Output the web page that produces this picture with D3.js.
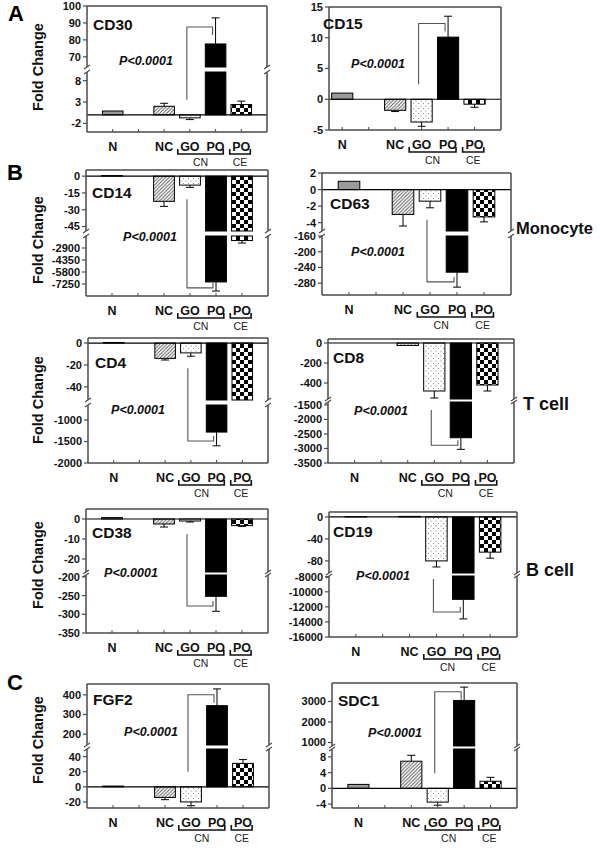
<!DOCTYPE html>
<html><head><meta charset="utf-8">
<script src="https://cdn.jsdelivr.net/npm/d3@7"></script>
<style>
body{margin:0;background:#fff}
svg{display:block}
text{font-family:"Liberation Sans",Arial,Helvetica,sans-serif}
</style>
</head><body>
<svg id="c" width="600" height="848"></svg>
<script>
// ---------------- DATA ----------------
const categories = ["N", "NC", "GO", "PO", "PO"];
const groupLabels = ["CN", "CE"];
const cellTypes = ["Monocyte", "T cell", "B cell"];
const sectionLetters = ["A", "B", "C"];
const pLabel = "P<0.0001";
const yTitle = "Fold Change";

const valuesCD30 = [0.9, 2.0, -0.7, 77.6, 2.4];
const errorsCD30 = [null, 2.7, -1.1, 93, 3.2];
const ticksCD30 = [-2, 3, 8, 70, 80, 90, 100];

const valuesCD15 = [1.0, -1.8, -3.7, 10.1, -0.8];
const errorsCD15 = [null, -2.0, -4.4, 13.5, -1.3];
const ticksCD15 = [-5, 0, 5, 10, 15];

const valuesCD14 = [0.5, -22.5, -8, -7000, -2000];
const errorsCD14 = [null, -27, -10, -8100, -2300];
const ticksCD14 = [0, -15, -30, -45, -2900, -4350, -5800, -7250];

const valuesCD63 = [1, -3, -1.4, -252, -3.3];
const errorsCD63 = [null, -4.4, -2.2, -290, -3.9];
const ticksCD63 = [2, 0, -2, -4, -160, -200, -240, -280];

const valuesCD4 = [0.5, -14, -9, -1280, -60];
const errorsCD4 = [null, -15.5, -12, -1600, null];
const ticksCD4 = [0, -20, -40, -1000, -1500, -2000];

const valuesCD8 = [0, -25, -480, -2630, -420];
const errorsCD8 = [null, null, -550, -3030, -480];
const ticksCD8 = [0, -200, -400, -1500, -2000, -2500, -3000, -3500];

const valuesCD38 = [0.7, -2.5, -1, -252, -3.3];
const errorsCD38 = [null, -4, -1.5, -292, -3.7];
const ticksCD38 = [0, -10, -20, -200, -250, -300, -350];

const valuesCD19 = [0.5, 1, -80, -11000, -64];
const errorsCD19 = [null, null, -91, -13600, -75];
const ticksCD19 = [0, -40, -80, -8000, -10000, -12000, -14000, -16000];

const valuesFGF2 = [1, -14, -20, 345, 31];
const errorsFGF2 = [null, -17, -25, 430, 36];
const ticksFGF2 = [-20, 0, 20, 40, 200, 300, 400];

const valuesSDC1 = [1, 6.9, -3.5, 3050, 1.8];
const errorsSDC1 = [null, 8.4, -4.3, 3700, 2.8];
const ticksSDC1 = [-4, 0, 4, 8, 1000, 2000, 3000];

// ---------------- LAYOUT ----------------
const slots = [1, 3, 4, 5, 6];
const fills = ["url(#pGray)", "url(#pHatch)", "url(#pDots)", "#000", "url(#pCheck)"];

const panels = [
  {name:"CD30", v:valuesCD30, e:errorsCD30, t:ticksCD30, frame:[87,267,6,132], xd:[0,7],
   segs:[{d:[-4,10], r:[132,72]}, {d:[64,100], r:[67,6]}], title:[93,24], p:[146,60]},
  {name:"CD15", v:valuesCD15, e:errorsCD15, t:ticksCD15, frame:[329,501,7,130], xd:[0.5,7],
   segs:[{d:[-5,15], r:[130,7]}], title:[323,23], p:[378,63]},
  {name:"CD14", v:valuesCD14, e:errorsCD14, t:ticksCD14, frame:[86,268,170,296], xd:[0,7],
   segs:[{d:[-49,5.5], r:[231,170]}, {d:[-8700,-1450], r:[296,236]}], title:[92,192], p:[150,236]},
  {name:"CD63", v:valuesCD63, e:errorsCD63, t:ticksCD63, frame:[322,511,173,295], xd:[0,7],
   segs:[{d:[-5,2], r:[231,173]}, {d:[-310,-160], r:[295,236]}], title:[330,203], p:[378,251]},
  {name:"CD4", v:valuesCD4, e:errorsCD4, t:ticksCD4, frame:[88,268,338,463], xd:[0,7],
   segs:[{d:[-52,4.6], r:[400,338]}, {d:[-2000,-650], r:[463,405]}], title:[95,362], p:[138,409]},
  {name:"CD8", v:valuesCD8, e:errorsCD8, t:ticksCD8, frame:[328,514,339,463], xd:[0,7],
   segs:[{d:[-560,40], r:[399,339]}, {d:[-3500,-1400], r:[463,402]}], title:[333,357], p:[381,410]},
  {name:"CD38", v:valuesCD38, e:errorsCD38, t:ticksCD38, frame:[86,268,509,633], xd:[0,7],
   segs:[{d:[-26.5,5], r:[572,509]}, {d:[-350,-195], r:[633,575]}], title:[92,532], p:[131,572]},
  {name:"CD19", v:valuesCD19, e:errorsCD19, t:ticksCD19, frame:[329,517,512,637], xd:[0,7],
   segs:[{d:[-102,9], r:[573,512]}, {d:[-16000,-7900], r:[637,576]}], title:[333,531], p:[383,575]},
  {name:"FGF2", v:valuesFGF2, e:errorsFGF2, t:ticksFGF2, frame:[87,269,684,808], xd:[0,7],
   segs:[{d:[-28,50], r:[808,749]}, {d:[145,455], r:[745,684]}], title:[93,699], p:[151,731]},
  {name:"SDC1", v:valuesSDC1, e:errorsSDC1, t:ticksSDC1, frame:[332,517,683,808], xd:[0,7],
   segs:[{d:[-5,10], r:[808,749]}, {d:[830,3900], r:[746,683]}], title:[338,700], p:[395,732]}
];

const svg = d3.select("#c");
const defs = svg.append("defs");
const pg = defs.append("pattern").attr("id","pGray").attr("patternUnits","userSpaceOnUse").attr("width",4).attr("height",4);
pg.append("rect").attr("width",4).attr("height",4).attr("fill","#9a9a9a");
const ph = defs.append("pattern").attr("id","pHatch").attr("patternUnits","userSpaceOnUse").attr("width",3.5).attr("height",3.5);
ph.append("rect").attr("width",3.5).attr("height",3.5).attr("fill","#fff");
ph.append("path").attr("d","M-1,1 L1,-1 M0,3.5 L3.5,0 M2.5,4.5 L4.5,2.5").attr("stroke","#555").attr("stroke-width",0.9);
const pd = defs.append("pattern").attr("id","pDots").attr("patternUnits","userSpaceOnUse").attr("width",5).attr("height",5);
pd.append("rect").attr("width",5).attr("height",5).attr("fill","#fff");
pd.append("circle").attr("cx",1).attr("cy",1).attr("r",0.55).attr("fill","#777");
pd.append("circle").attr("cx",3.5).attr("cy",3.5).attr("r",0.55).attr("fill","#777");
const pc = defs.append("pattern").attr("id","pCheck").attr("patternUnits","userSpaceOnUse").attr("width",8).attr("height",8);
pc.append("rect").attr("width",8).attr("height",8).attr("fill","#fff");
pc.append("rect").attr("width",4).attr("height",4).attr("fill","#000");
pc.append("rect").attr("x",4).attr("y",4).attr("width",4).attr("height",4).attr("fill","#000");

function drawPanel(p) {
  const [x0, x1, y0, y1] = p.frame;
  const g = svg.append("g");
  const x = d3.scaleLinear().domain(p.xd).range([x0, x1]);
  const step = x(1) - x(0);
  const segs = p.segs.map(s => ({lo: s.d[0], hi: s.d[1], r: s.r, scale: d3.scaleLinear().domain(s.d).range(s.r)}));
  const base = segs[0], other = segs[1];
  const segOf = v => segs.find(s => v >= s.lo - 1e-9 && v <= s.hi + 1e-9);
  const clamp = (v, a, b) => Math.max(a, Math.min(b, v));

  p.v.forEach((v, i) => {
    const cx = x(slots[i]), w = step * 0.8;
    const pieces = [[base.scale(0), base.scale(clamp(v, base.lo, base.hi))]];
    if (other && (v < base.lo || v > base.hi)) {
      if (v >= other.lo && v <= other.hi) {
        const edge = v < 0 ? other.hi : other.lo;
        pieces.push([other.scale(edge), other.scale(v)]);
      } else if ((v < 0 && v < other.lo) || (v > 0 && v > other.hi)) {
        pieces.push([other.scale(other.lo), other.scale(other.hi)]);
      }
    }
    pieces.forEach(([a, b]) => {
      const h = Math.abs(b - a);
      if (h < 0.01) return;
      g.append("rect").attr("x", cx - w/2).attr("y", Math.min(a, b)).attr("width", w).attr("height", h)
        .attr("fill", fills[i]).attr("stroke", "#000").attr("stroke-width", 1);
    });
  });

  g.append("line").attr("x1", x0).attr("x2", x1).attr("y1", base.scale(0)).attr("y2", base.scale(0))
    .attr("stroke", "#000").attr("stroke-width", 1.2);

  p.e.forEach((e, i) => {
    if (e === null) return;
    const v = p.v[i];
    const s = segOf(e), sv = segOf(v);
    if (!s || s !== sv) return;
    const cx = x(slots[i]);
    g.append("line").attr("x1", cx).attr("x2", cx).attr("y1", s.scale(v)).attr("y2", s.scale(e))
      .attr("stroke", "#000").attr("stroke-width", 1);
    g.append("line").attr("x1", cx - 4).attr("x2", cx + 4).attr("y1", s.scale(e)).attr("y2", s.scale(e))
      .attr("stroke", "#000").attr("stroke-width", 1);
  });

  const fc = "#4a4a4a", fw = 1.5;
  g.append("line").attr("x1", x0).attr("x2", x1).attr("y1", y0).attr("y2", y0).attr("stroke", fc).attr("stroke-width", fw);
  g.append("line").attr("x1", x0).attr("x2", x1).attr("y1", y1).attr("y2", y1).attr("stroke", fc).attr("stroke-width", fw);
  let gapTop = null, gapBot = null;
  if (other) {
    const up = d3.min(base.r) < d3.min(other.r) ? base : other;
    const lowS = up === base ? other : base;
    gapTop = d3.max(up.r); gapBot = d3.min(lowS.r);
  }
  [x0, x1].forEach(xx => {
    if (gapTop === null) {
      g.append("line").attr("x1", xx).attr("x2", xx).attr("y1", y0).attr("y2", y1).attr("stroke", fc).attr("stroke-width", fw);
    } else {
      g.append("line").attr("x1", xx).attr("x2", xx).attr("y1", y0).attr("y2", gapTop).attr("stroke", fc).attr("stroke-width", fw);
      g.append("line").attr("x1", xx).attr("x2", xx).attr("y1", gapBot).attr("y2", y1).attr("stroke", fc).attr("stroke-width", fw);
      [gapTop, gapBot].forEach(yy => {
        g.append("line").attr("x1", xx - 3).attr("x2", xx + 3).attr("y1", yy + 2).attr("y2", yy - 2)
          .attr("stroke", fc).attr("stroke-width", 1.1);
      });
    }
  });

  p.t.forEach(t => {
    const s = segOf(t);
    if (!s) return;
    const yy = s.scale(t);
    g.append("line").attr("x1", x0 - 4).attr("x2", x0).attr("y1", yy).attr("y2", yy).attr("stroke", fc).attr("stroke-width", 1.2);
    g.append("text").attr("x", x0 - 6).attr("y", yy).attr("dy", "0.36em").attr("text-anchor", "end")
      .attr("font-size", 11).attr("font-weight", "bold").attr("fill", "#111").text(String(t));
  });

  for (let k = 1; k <= 6; k++) {
    const xx = x(k);
    g.append("line").attr("x1", xx).attr("x2", xx).attr("y1", y1).attr("y2", y1 - 3).attr("stroke", fc).attr("stroke-width", 1);
  }

  const lb = y1 + 18.5;
  categories.forEach((c, i) => {
    g.append("text").attr("x", x(slots[i])).attr("y", lb).attr("text-anchor", "middle")
      .attr("font-size", 12.5).attr("font-weight", "bold").attr("fill", "#111").text(c);
  });
  const by = lb + 3.5;
  const grp = [[x(slots[2]) - 0.47 * step, x(slots[3]) + 0.3 * step, groupLabels[0]],
               [x(slots[4]) - 0.45 * step, x(slots[4]) + 0.35 * step, groupLabels[1]]];
  grp.forEach(([a, b, lab]) => {
    g.append("path").attr("d", `M${a},${by - 5}V${by}H${b}V${by - 5}`).attr("fill", "none")
      .attr("stroke", "#111").attr("stroke-width", 1.6);
    g.append("text").attr("x", (a + b) / 2).attr("y", lb + 15).attr("text-anchor", "middle")
      .attr("font-size", 10.5).attr("fill", "#222").text(lab);
  });

  const goX = x(slots[2]) - 3, poX = x(slots[3]) - 3;
  const poV = p.v[3], poE = p.e[3];
  const sb = segOf(poV) || base, se = segOf(poE) || sb;
  const barPx = sb.scale(poV), errPx = se.scale(poE);
  let d;
  if (poV > 0) {
    const ys = base.scale(0) - 15;
    const yh = errPx + 0.35 * (barPx - errPx);
    d = `M${goX},${ys}V${yh}H${poX}V${yh + 8}`;
  } else {
    const goE = p.e[2] !== null ? p.e[2] : p.v[2];
    const sg = segOf(goE) || base;
    const ys = sg.scale(goE) + 12;
    const yh = errPx - 0.35 * (errPx - barPx);
    d = `M${goX},${ys}V${yh}H${poX}V${yh - 5}`;
  }
  g.append("path").attr("d", d).attr("fill", "none").attr("stroke", "#555").attr("stroke-width", 1.1);

  g.append("text").attr("x", p.p[0]).attr("y", p.p[1]).attr("dy", "0.36em").attr("text-anchor", "middle")
    .attr("font-size", 12.5).attr("font-weight", "bold").attr("font-style", "italic").attr("fill", "#111").text(pLabel);

  g.append("text").attr("x", p.title[0]).attr("y", p.title[1]).attr("dy", "0.36em")
    .attr("font-size", 15.5).attr("font-weight", "bold").attr("fill", "#111").text(p.name);
}

panels.forEach(drawPanel);

[67, 240, 400, 565, 740].forEach(cy => {
  svg.append("text").attr("transform", `translate(43,${cy}) rotate(-90)`).attr("text-anchor", "middle")
    .attr("font-size", 14.5).attr("font-weight", "bold").attr("fill", "#111").text(yTitle);
});

[[8, 21], [7, 180], [7, 690]].forEach(([lx, ly], i) => {
  svg.append("text").attr("x", lx).attr("y", ly).attr("font-size", 22).attr("font-weight", "bold").attr("fill", "#000").text(sectionLetters[i]);
});

[[516, 228, 16.5], [523, 404, 18], [526, 570, 18]].forEach(([lx, ly, fs], i) => {
  svg.append("text").attr("x", lx).attr("y", ly).attr("dy", "0.36em").attr("font-size", fs).attr("font-weight", "bold")
    .attr("fill", "#111").text(cellTypes[i]);
});
</script>
</body></html>
